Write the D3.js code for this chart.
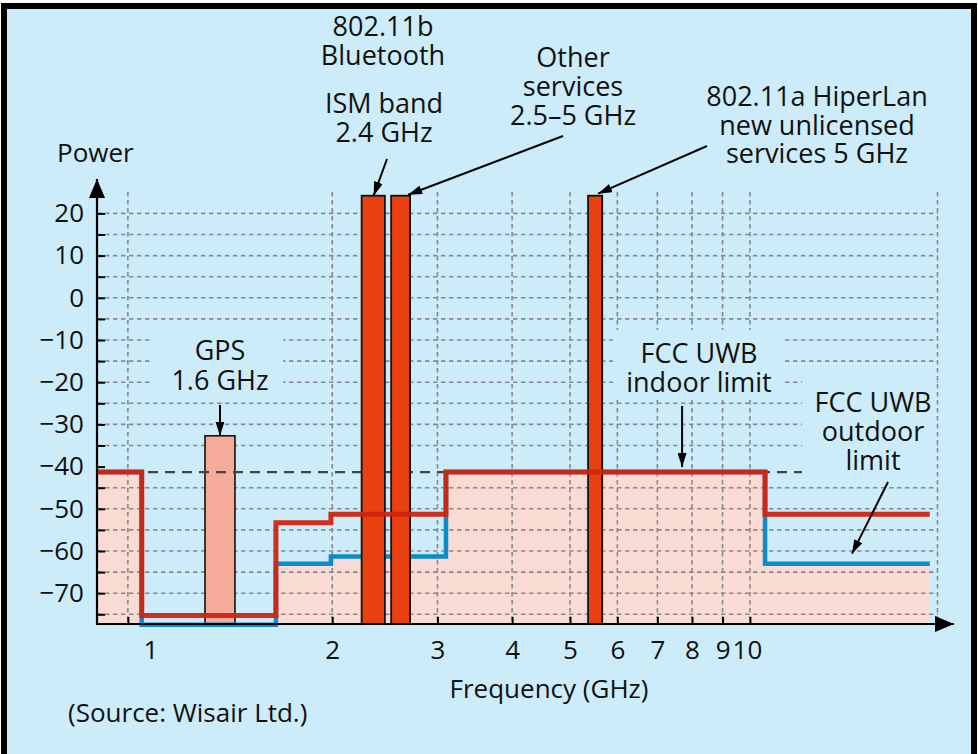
<!DOCTYPE html>
<html>
<head>
<meta charset="utf-8">
<script src="https://cdn.jsdelivr.net/npm/d3@7"></script>
<style>
  body { margin: 0; background: #fff; }
  svg { display: block; }
  text { font-family: "Open Sans", "Noto Sans", sans-serif; fill: #111; }
</style>
</head>
<body>
<div id="chart"></div>
<script>
// FCC UWB emission masks (dBm/MHz) per band, band edges in GHz
const freqEdges = [0.808, 0.96, 1.61, 1.99, 3.1, 10.6, 20];
const indoorLimit = [-41.3, -75.3, -53.3, -51.3, -41.3, -51.3];
const outdoorLimit = [-41.3, -77.5, -63.0, -61.3, -41.3, -63.0];

// narrowband services (tall bars)
const bandNames = ["802.11b / Bluetooth", "Other services", "802.11a HiperLan"];
const bandLow = [2.24, 2.51, 5.36];
const bandHigh = [2.45, 2.70, 5.66];
const bandPower = [24.2, 24.2, 24.2];

// GPS bar
const gpsLow = [1.225];
const gpsHigh = [1.375];
const gpsPower = [-32.7];

// axes
const powerLabels = [20, 10, 0, -10, -20, -30, -40, -50, -60, -70];
const powerGrid = [20, 15, 10, 5, 0, -5, -10, -15, -20, -25, -30, -35, -45, -50, -55, -60, -65, -70, -75];
const powerTicks = [20, 15, 10, 5, 0, -5, -10, -15, -20, -25, -30, -35, -40, -45, -50, -55, -60, -65, -70, -75];
const freqLabels = [1, 2, 3, 4, 5, 6, 7, 8, 9, 10];
const freqGrid = [0.91, 2, 3, 4, 5, 6, 7, 8, 9, 10, 20.6];
const limitLine = -41.3;

const W = 978, H = 754;
const x = d3.scaleLog().domain([0.808, 20]).range([97, 929.8]);
const y = d3.scaleLinear().domain([-77.3, 24.2]).range([624, 195.7]);
const gridRight = 938, gridTop = 192;

const svg = d3.select('#chart').append('svg')
    .attr('width', W).attr('height', H);

const defs = svg.append('defs');
// small head for annotations, big head for axes
[['arrow', 14, 4.5], ['axisArrow', 19, 8]].forEach(([id, len, half]) => {
  defs.append('marker')
      .attr('id', id)
      .attr('markerUnits', 'userSpaceOnUse')
      .attr('viewBox', `0 ${-half} ${len} ${half * 2}`)
      .attr('refX', len).attr('refY', 0)
      .attr('markerWidth', len).attr('markerHeight', half * 2)
      .attr('orient', 'auto')
    .append('path').attr('d', `M0,${-half}L${len},0L0,${half}Z`).attr('fill', '#000');
});

// background + frame
svg.append('rect').attr('x', 4).attr('y', 6).attr('width', 970).attr('height', 760)
    .attr('fill', '#CCECF9').attr('stroke', '#000').attr('stroke-width', 6);

// step data
const stepPts = vals => freqEdges.map((f, i) => ({f, v: vals[Math.min(i, vals.length - 1)]}));

// fill under outdoor limit
svg.append('path')
    .datum(stepPts(outdoorLimit))
    .attr('fill', '#FADBD4')
    .attr('d', d3.area().curve(d3.curveStepAfter)
        .x(d => x(d.f)).y0(y.range()[0]).y1(d => y(d.v)));

// grid
const grid = svg.append('g').attr('stroke', '#8a8a8a').attr('stroke-width', 1.6)
    .attr('stroke-dasharray', '4.5,3.5').attr('fill', 'none');
grid.selectAll('line.h').data(powerGrid).join('line').attr('class', 'h')
    .attr('x1', x.range()[0]).attr('x2', gridRight)
    .attr('y1', d => y(d)).attr('y2', d => y(d));
grid.selectAll('line.v').data(freqGrid).join('line').attr('class', 'v')
    .attr('x1', d => x(d)).attr('x2', d => x(d))
    .attr('y1', gridTop).attr('y2', y.range()[0]);

// label backgrounds that cut the grid
const bgBoxes = [[150, 328, 133, 70], [613, 330, 172, 70], [802, 372, 132, 110]];
svg.selectAll('rect.bg').data(bgBoxes).join('rect').attr('class', 'bg')
    .attr('x', d => d[0]).attr('y', d => d[1]).attr('width', d => d[2]).attr('height', d => d[3])
    .attr('fill', '#CCECF9');

// GPS bar
svg.selectAll('rect.gps').data(gpsLow).join('rect').attr('class', 'gps')
    .attr('x', (d, i) => x(d)).attr('width', (d, i) => x(gpsHigh[i]) - x(d))
    .attr('y', (d, i) => y(gpsPower[i])).attr('height', (d, i) => y.range()[0] - y(gpsPower[i]))
    .attr('fill', '#F5AA9A').attr('stroke', '#111').attr('stroke-width', 1.6);

// -41.3 reference line
svg.append('line')
    .attr('x1', x.range()[0]).attr('x2', 802)
    .attr('y1', y(limitLine)).attr('y2', y(limitLine))
    .attr('stroke', '#444').attr('stroke-width', 2.2).attr('stroke-dasharray', '10,7');

// outdoor (blue) limit
svg.append('path')
    .datum(stepPts(outdoorLimit))
    .attr('fill', 'none').attr('stroke', '#0A8CCB').attr('stroke-width', 4.5)
    .attr('d', d3.line().curve(d3.curveStepAfter).x(d => x(d.f)).y(d => y(d.v)));

// narrowband service bars
svg.selectAll('rect.band').data(bandNames).join('rect').attr('class', 'band')
    .attr('x', (d, i) => x(bandLow[i])).attr('width', (d, i) => x(bandHigh[i]) - x(bandLow[i]))
    .attr('y', (d, i) => y(bandPower[i])).attr('height', (d, i) => y.range()[0] - y(bandPower[i]))
    .attr('fill', '#E8400E').attr('stroke', '#111').attr('stroke-width', 1.8);

// indoor (red) limit
svg.append('path')
    .datum(stepPts(indoorLimit))
    .attr('fill', 'none').attr('stroke', '#D0250F').attr('stroke-width', 5).attr('stroke-opacity', 0.95)
    .attr('d', d3.line().curve(d3.curveStepAfter).x(d => x(d.f)).y(d => y(d.v)));

// y axis
const yTicks = svg.append('g').attr('transform', `translate(${x.range()[0]},0)`)
    .call(d3.axisLeft(y).tickValues(powerTicks).tickSize(-8).tickFormat(''));
const yLabels = svg.append('g').attr('transform', `translate(${x.range()[0]},0)`)
    .call(d3.axisLeft(y).tickValues(powerLabels).tickSize(0).tickPadding(13)
        .tickFormat(d => d < 0 ? '\u2212' + Math.abs(d) : d));
// x axis
const xTicks = svg.append('g').attr('transform', `translate(0,${y.range()[0]})`)
    .call(d3.axisBottom(x).tickValues(freqGrid.slice(0, -1)).tickSize(-7).tickFormat(''));
const xLabels = svg.append('g').attr('transform', `translate(0,${y.range()[0]})`)
    .call(d3.axisBottom(x).tickValues(freqLabels).tickSize(0).tickPadding(17).tickFormat(d3.format('d')));
[yTicks, yLabels, xTicks, xLabels].forEach(g => {
  g.select('.domain').remove();
  g.selectAll('line').attr('stroke', '#000').attr('stroke-width', 2);
  g.selectAll('text').attr('font-size', 26).attr('fill', '#111')
      .style('font-family', '"Open Sans", "Noto Sans", sans-serif');
});
xLabels.selectAll('text').attr('dx', d => d === 1 ? -2 : d === 10 ? -3 : 0);

svg.append('line').attr('x1', x.range()[0]).attr('x2', x.range()[0])
    .attr('y1', y.range()[0] + 1).attr('y2', 179)
    .attr('stroke', '#000').attr('stroke-width', 2.2).attr('marker-end', 'url(#axisArrow)');
svg.append('line').attr('x1', x.range()[0] - 1).attr('x2', 954)
    .attr('y1', y.range()[0]).attr('y2', y.range()[0])
    .attr('stroke', '#000').attr('stroke-width', 2.2).attr('marker-end', 'url(#axisArrow)');

// texts
function label(lines, cx, baseline, step, size, anchor) {
  const t = svg.append('text').attr('font-size', size || 27)
      .attr('text-anchor', anchor || 'middle');
  lines.forEach((s, i) => t.append('tspan').attr('x', cx).attr('y', baseline + i * (step || 29)).text(s));
}
label(['802.11b', 'Bluetooth'], 383, 36, 29);
label(['ISM band', '2.4 GHz'], 384, 113, 29);
label(['Other', 'services', '2.5\u20135 GHz'], 573, 67, 29);
label(['802.11a HiperLan', 'new unlicensed', 'services 5 GHz'], 817, 106, 28.5);
label(['GPS', '1.6 GHz'], 220, 360, 30);
label(['FCC UWB', 'indoor limit'], 699, 363, 29);
label(['FCC UWB', 'outdoor', 'limit'], 873, 412, 29);
label(['Power'], 57, 162, 0, 26, 'start');
label(['Frequency (GHz)'], 549, 698, 0, 26);
label(['(Source: Wisair Ltd.)'], 68, 722, 0, 26, 'start');

// annotation arrows (tips on the marks)
const arrows = [
  [387, 159, x(bandLow[0]) + 12, y(bandPower[0])],
  [563, 136, x(bandLow[1]) + 17, y(bandPower[1]) - 1],
  [707, 146, x(bandLow[2]) + 10, y(bandPower[2]) - 2],
  [(x(gpsLow[0]) + x(gpsHigh[0])) / 2, 405, (x(gpsLow[0]) + x(gpsHigh[0])) / 2, y(gpsPower[0])],
  [x(7.7), 406, x(7.7), y(limitLine) - 5],
  [888, 482, 852, y(outdoorLimit[5]) - 10]
];
svg.selectAll('line.arrow').data(arrows).join('line').attr('class', 'arrow')
    .attr('x1', d => d[0]).attr('y1', d => d[1]).attr('x2', d => d[2]).attr('y2', d => d[3])
    .attr('stroke', '#000').attr('stroke-width', 2).attr('marker-end', 'url(#arrow)');
</script>
</body>
</html>
